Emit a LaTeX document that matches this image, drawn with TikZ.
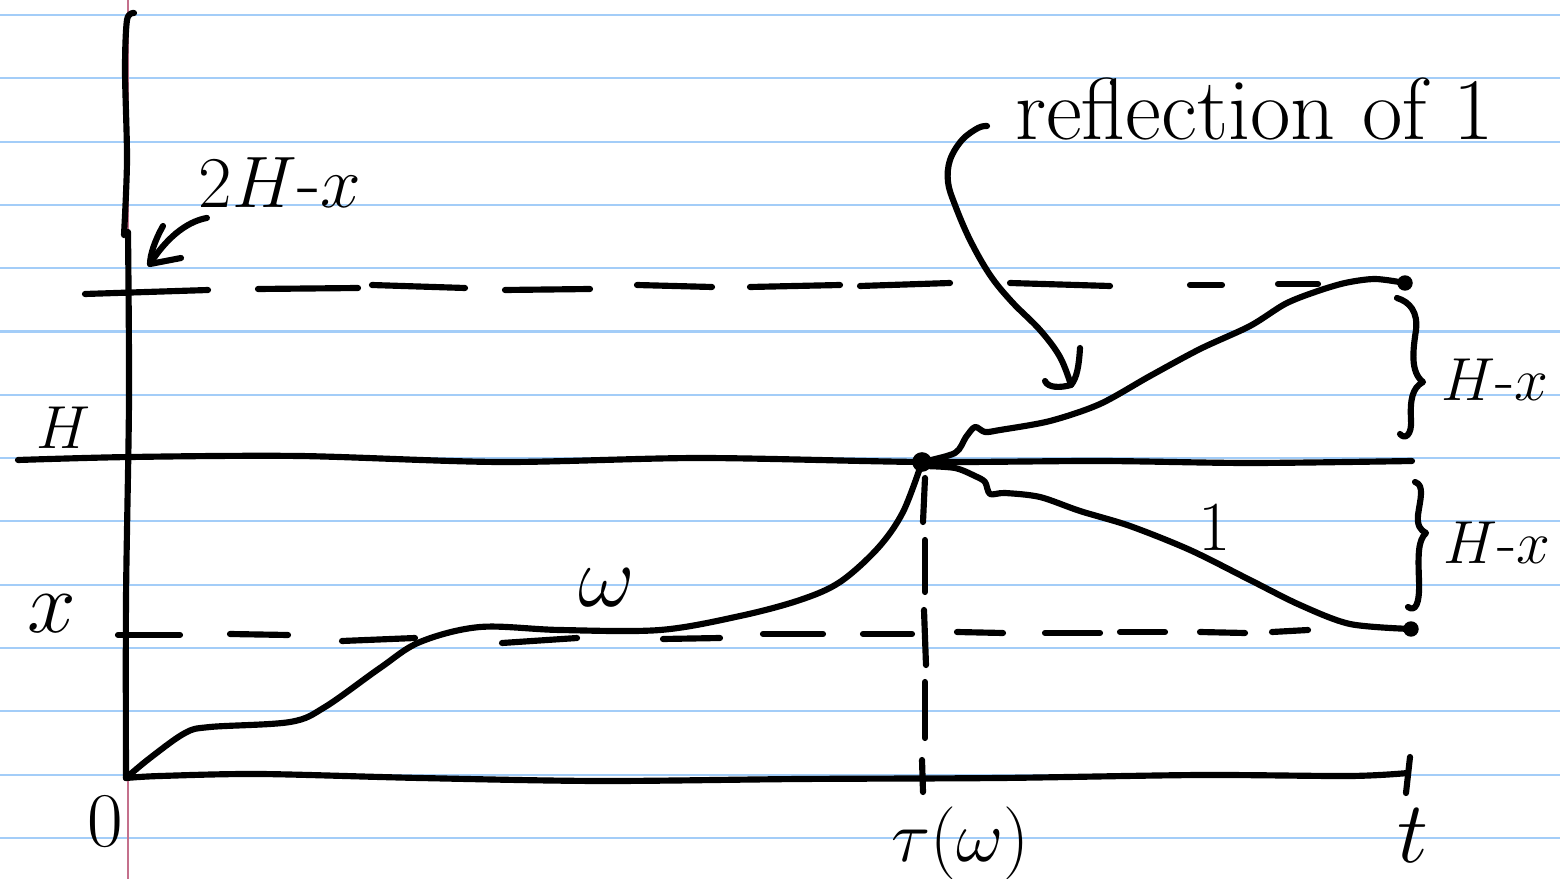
\documentclass[tikz,border=0pt]{standalone}
\usetikzlibrary{calc}
\definecolor{ruled}{HTML}{A3CDF8}
\definecolor{marginred}{HTML}{C4708C}
\begin{document}
\begin{tikzpicture}[x=0.01cm,y=-0.01cm,
  ink/.style={line width=1.75pt,line cap=round,line join=round},
  lbl/.style={inner sep=0pt,outer sep=0pt},
  fsz/.style={font=\fontsize{#1}{#1}\selectfont}]
\useasboundingbox (0,0) rectangle (1560,879);
\fill[white] (0,0) rectangle (1560,879);
% lined paper
\foreach \k in {0,...,13} \draw[ruled,line width=0.6pt] (0,{15+63.3*\k}) -- (1560,{15+63.3*\k});
\draw[marginred,line width=0.45pt] (128,0) -- (128,879);

% key points
\coordinate (O) at (126,778);
\coordinate (T) at (922,462);
\coordinate (Up) at (1405,283);
\coordinate (Lo) at (1411,629);

% vertical axis
\draw[ink] plot[smooth] coordinates {(134,13)(127,20)(125,70)(127,160)(124,235)};
\draw[ink] plot[smooth] coordinates {(128,232)(129,400)(126,600)(O)};
% time axis
\draw[ink] plot[smooth,tension=0.5] coordinates {(O)(160,776)(260,774)(420,778)(600,781)(800,779)(1000,778)(1200,775)(1350,776)(1408,773)};
\draw[ink] (922,760) -- (923,792);
\draw[ink] (1410,757) -- (1406,793);

% level H
\draw[ink] plot[smooth] coordinates {(18,460)(130,457)(300,456)(500,462)(700,458)(T)(1100,461)(1250,463)(1412,461)};

% level 2H-x (dashed by hand)
\foreach \a/\b/\c/\d in {85/294/208/290, 258/289/358/288, 372/285/465/288, 505/290/590/289, 637/285/712/287, 750/287/840/285, 860/286/950/283, 1010/283/1110/286, 1190/285/1222/285, 1278/284/1318/284}
  \draw[ink] (\a,\b) -- (\c,\d);
% level x (dashed by hand)
\foreach \a/\b/\c/\d in {118/635/180/635, 230/634/288/635, 342/641/415/638, 502/643/577/638, 663/639/720/638, 763/634/823/634, 863/634/912/634, 957/632/1003/633, 1045/633/1100/633, 1120/632/1165/632, 1200/632/1245/633, 1272/632/1308/630}
  \draw[ink] (\a,\b) -- (\c,\d);
% vertical dashed at tau
\foreach \a/\b/\c/\d in {925/478/923/522, 925/540/925/592, 924/610/926/665, 925/682/925/738}
  \draw[ink] (\a,\b) -- (\c,\d);

% path omega
\draw[ink] plot[smooth,tension=0.55] coordinates {(O)(150,758)(185,733)(210,727)(290,722)(325,707)(380,668)(420,642)(480,627)(560,630)(660,630)(740,616)(800,600)(840,582)(878,548)(903,512)(T)};
% reflected path
\draw[ink] plot[smooth,tension=0.5] coordinates {(T)(955,453)(966,437)(975,427)(985,432)(1000,430)(1050,421)(1100,404)(1150,376)(1200,349)(1250,326)(1285,304)(1315,292)(1345,283)(1375,279)(Up)};
% path 1
\draw[ink] plot[smooth,tension=0.5] coordinates {(925,466)(955,468)(975,476)(985,482)(990,494)(1005,493)(1040,497)(1080,511)(1130,526)(1190,550)(1250,580)(1300,605)(1350,624)(Lo)};

\fill (T) circle[radius=2.8pt];
\fill (Up) circle[radius=2.2pt];
\fill (Lo) circle[radius=2.2pt];

% braces
\draw[ink] (1397,298) .. controls (1410,302) and (1418,312) .. (1416,330)
  .. controls (1413,350) and (1410,372) .. (1423,382)
  .. controls (1412,388) and (1410,400) .. (1411,420)
  .. controls (1412,435) and (1405,440) .. (1400,434);
\draw[ink] (1415,482) .. controls (1425,485) and (1420,500) .. (1418,515)
  .. controls (1417,525) and (1420,530) .. (1426,533)
  .. controls (1418,540) and (1418,555) .. (1419,580)
  .. controls (1420,605) and (1415,612) .. (1408,607);

% labels
\node[lbl,fsz=22] (l2h) at (280,183) {$2H$-$x$};
\node[lbl,fsz=17] (lH) at (63,428) {$H$};
\node[lbl,fsz=30] (lx) at (52,614) {$x$};
\node[lbl,fsz=26] (lw) at (607,588) {$\omega$};
\node[lbl,fsz=20] (l1) at (1215,527) {1};
\node[lbl,fsz=22] (l0) at (105,822) {0};
\node[lbl,fsz=22] (ltau) at (960,843) {$\tau(\omega)$};
\node[lbl,fsz=24] (lt) at (1413,836) {$t$};
\node[lbl,fsz=18] (lhx1) at (1495,380) {$H$-$x$};
\node[lbl,fsz=18] (lhx2) at (1497,543) {$H$-$x$};
\node[lbl,fsz=25,anchor=base west] (refl) at (1015,140) {reflection of 1};

% arrow to 2H-x level
\coordinate (a2h) at (150,264);
\draw[ink] ($(l2h.south west)+(8,10)$) .. controls (185,222) and (165,240) .. (a2h);
\draw[ink] (163,226) .. controls (155,240) and (150,255) .. (a2h) -- (181,258);

% arrow from reflection label
\coordinate (ar) at (1071,385);
\draw[ink] plot[smooth,tension=0.6] coordinates {($(refl.base west)+(-28,-14)$)(978,128)(962,140)(950,160)(948,182)(955,205)(970,240)(990,275)(1012,302)(1040,330)(1060,357)(ar)};
\draw[ink] (1080,348) .. controls (1079,365) and (1077,378) .. (ar) .. controls (1060,388) and (1048,388) .. (1045,381);
\end{tikzpicture}
\end{document}
